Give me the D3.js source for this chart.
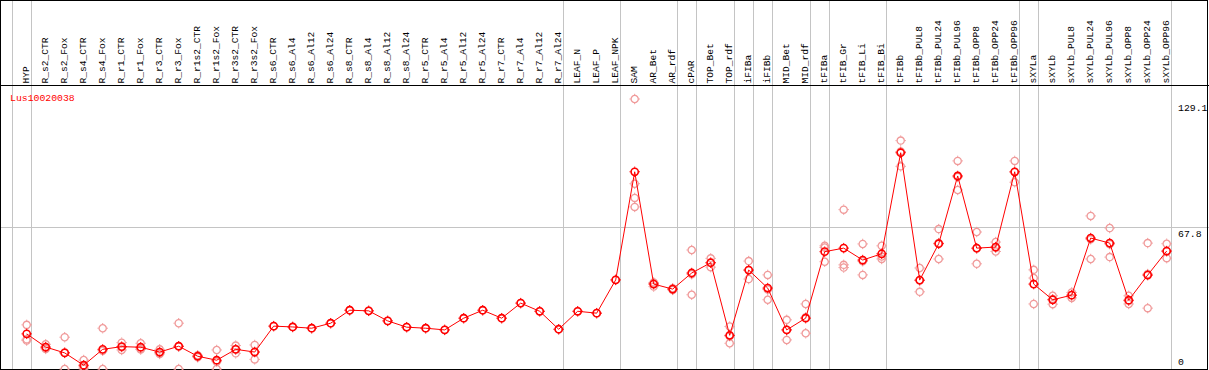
<!DOCTYPE html>
<html>
<head>
<meta charset="utf-8">
<script src="https://cdn.jsdelivr.net/npm/d3@7"></script>
<style>
  body { margin: 0; background: #fff; }
  text { font-family: "Liberation Mono", "DejaVu Sans Mono", monospace; }
</style>
</head>
<body>
<div id="chart"></div>
<script>
// sample categories (one column each)
var categories = ["HYP","R_s2_CTR","R_s2_Fox","R_s4_CTR","R_s4_Fox","R_r1_CTR","R_r1_Fox","R_r3_CTR","R_r3_Fox",
  "R_r1s2_CTR","R_r1s2_Fox","R_r3s2_CTR","R_r3s2_Fox","R_s6_CTR","R_s6_Al4","R_s6_Al12","R_s6_Al24",
  "R_s8_CTR","R_s8_Al4","R_s8_Al12","R_s8_Al24","R_r5_CTR","R_r5_Al4","R_r5_Al12","R_r5_Al24",
  "R_r7_CTR","R_r7_Al4","R_r7_Al12","R_r7_Al24","LEAF_N","LEAF_P","LEAF_NPK","SAM","AR_Bet","AR_rdf",
  "cPAR","TOP_Bet","TOP_rdf","iFIBa","iFIBb","MID_Bet","MID_rdf","tFIBa","tFIB_Gr","tFIB_Li","tFIB_Bi",
  "tFIBb","tFIBb_PUL8","tFIBb_PUL24","tFIBb_PUL96","tFIBb_OPP8","tFIBb_OPP24","tFIBb_OPP96",
  "sXYLa","sXYLb","sXYLb_PUL8","sXYLb_PUL24","sXYLb_PUL96","sXYLb_OPP8","sXYLb_OPP24","sXYLb_OPP96"];

var geneName = "Lus10020038";

// mean expression per sample
var means = [16.8,10.5,7.7,1.8,9.4,10.7,10.4,8.1,10.9,6.1,4.2,9.4,8.1,
  20.5,20.1,19.5,21.9,28.1,27.8,23.0,20.0,19.5,18.7,24.3,28.1,24.3,31.5,27.6,19.0,
  27.6,26.7,42.6,94.3,40.6,38.2,45.9,50.8,16.1,47.3,38.7,18.7,24.3,56.1,57.8,52.1,55.1,
  103.4,42.5,59.9,92.3,57.8,58.3,94.3,40.6,33.1,35.3,62.6,60.2,32.9,44.9,56.4];

// replicate values per sample
var replicates = [
  [21.1,14.2,13.6],[11.8,9.6,10.1],[15.2,7.9,0.0],[4.3,1.0,0.1],[19.5,8.7,0.0],
  [12.6,9.1,10.4],[12.3,9.3,9.6],[9.4,7.2,7.7],[21.9,10.8,0.0],[6.6,5.6,6.1],
  [9.1,3.5,0.0],[11.2,7.5,9.5],[11.5,4.6,8.2],
  [20.5],[20.1],[19.5],[21.9],[28.1],[27.8],[23.0],[20.0],[19.5],[18.7],[24.3],[28.1],
  [24.3],[31.5],[27.6],[19.0],[27.6],[26.7],[42.6],
  [129.1,88.6,81.8,77.5],[39.4,41.4,41.0],[37.8,38.6,38.2],[56.9,35.5,45.3],[52.9,48.7,50.8],
  [20.3,12.3,15.7],[51.6,43.0,47.3],[45.0,33.1,38.0],[23.5,13.9,18.7],[31.1,17.1,24.7],
  [58.1,51.3,58.9],[76.2,49.8,48.5],[59.8,45.0,51.5],[58.9,52.6,53.8],
  [109.2,96.9,104.0],[48.3,36.9,42.3],[66.9,52.6,60.2],[99.5,85.6,91.8],[65.5,50.3,57.6],
  [60.7,56.2,58.0],[99.5,89.3,94.1],
  [47.4,43.5,31.1],[35.0,31.0,33.3],[36.6,34.0,35.3],[73.2,52.6,62.0],[67.4,53.5,59.7],
  [35.0,31.1,32.6],[60.2,29.1,45.4],[59.9,53.0,56.3]];

// a grey separator is drawn after these sample indices (-1 = before the first)
var groupBreaks = [-1,0,28,31,34,35,37,38,39,41,42,45,52,53,60];

var svgWidth = 1209;
var svgHeight = 370;
var headerH = 85.5;
var plotBottom = 369;

var svg = d3.select("#chart")
  .append("svg")
  .attr("width", svgWidth)
  .attr("height", svgHeight);

var xScale = d3.scalePoint()
  .domain(categories)
  .range([26.7, 1166.7]);
var step = xScale.step();

var maxVal = d3.max(replicates, r => d3.max(r));
var yScale = d3.scaleLinear()
  .domain([0, maxVal * 1.05])
  .range([plotBottom, headerH]);
var midVal = yScale.domain()[1] / 2;

// separators
svg.append("g").selectAll("line")
  .data(groupBreaks)
  .enter()
  .append("line")
  .attr("x1", d => Math.round(xScale(categories[0]) + step * d + 4) + 0.5)
  .attr("x2", d => Math.round(xScale(categories[0]) + step * d + 4) + 0.5)
  .attr("y1", 0)
  .attr("y2", svgHeight)
  .attr("stroke", "#c4c4c4")
  .attr("stroke-width", 1);

// middle horizontal gridline
svg.append("line")
  .attr("x1", 0)
  .attr("x2", svgWidth)
  .attr("y1", Math.round(yScale(midVal)) + 0.5)
  .attr("y2", Math.round(yScale(midVal)) + 0.5)
  .attr("stroke", "#c4c4c4");

// frame + header line
svg.append("rect")
  .attr("x", 0.5).attr("y", 0.5)
  .attr("width", svgWidth - 2).attr("height", plotBottom)
  .attr("fill", "none").attr("stroke", "#000");
svg.append("line")
  .attr("x1", 0).attr("x2", svgWidth)
  .attr("y1", headerH).attr("y2", headerH)
  .attr("stroke", "#000").attr("stroke-width", 1.2);

// rotated sample labels
svg.append("g").selectAll("text")
  .data(categories)
  .enter()
  .append("text")
  .attr("transform", d => `translate(${xScale(d) + 2.4}, 83.5) rotate(-90)`)
  .attr("font-size", "9.6px")
  .attr("fill", "#000")
  .text(d => d);

// y labels
svg.append("text")
  .attr("x", 1178).attr("y", yScale(maxVal) + 11.5)
  .attr("font-size", "9.8px").text(d3.format(".1f")(maxVal));
svg.append("text")
  .attr("x", 1178).attr("y", yScale(midVal) + 9.5)
  .attr("font-size", "9.8px").text(d3.format(".1f")(midVal));
svg.append("text")
  .attr("x", 1178).attr("y", plotBottom - 4)
  .attr("font-size", "9.8px").text("0");

svg.append("text")
  .attr("x", 10).attr("y", 101)
  .attr("font-size", "9.8px")
  .attr("fill", "#ff0000")
  .text(geneName);

// marker: small circle with 4 tiny ticks
function marker(g, color, sw) {
  g.append("circle")
    .attr("r", 3.6)
    .attr("fill", "none")
    .attr("stroke", color)
    .attr("stroke-width", sw);
  g.append("path")
    .attr("d", "M0,-4V-5.2M0,4V5.2M-4,0H-5.2M4,0H5.2")
    .attr("stroke", color)
    .attr("stroke-width", 1);
}

var repPoints = [];
replicates.forEach(function(r, i) {
  r.forEach(function(v) { repPoints.push({cat: categories[i], v: v}); });
});

svg.append("g").selectAll("g")
  .data(repPoints)
  .enter()
  .append("g")
  .attr("transform", d => `translate(${xScale(d.cat)}, ${yScale(d.v)})`)
  .each(function() { marker(d3.select(this), "#f09a9a", 1.3); });

var line = d3.line()
  .x((d, i) => xScale(categories[i]))
  .y(d => yScale(d));

svg.append("path")
  .datum(means)
  .attr("d", line)
  .attr("fill", "none")
  .attr("stroke", "#ff0000")
  .attr("stroke-width", 1);

svg.append("g").selectAll("g")
  .data(means)
  .enter()
  .append("g")
  .attr("transform", (d, i) => `translate(${xScale(categories[i])}, ${yScale(d)})`)
  .each(function() { marker(d3.select(this), "#ff0000", 1.6); });
</script>
</body>
</html>
